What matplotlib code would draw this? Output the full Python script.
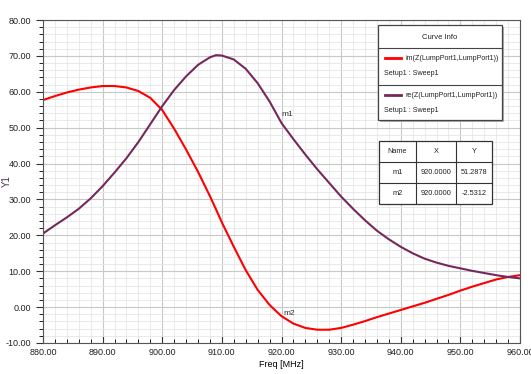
import numpy as np
import matplotlib.pyplot as plt
from matplotlib.patches import Rectangle
from matplotlib.ticker import MultipleLocator, FormatStrFormatter

plt.rcParams['font.family'] = ['Liberation Sans Narrow', 'Liberation Sans', 'DejaVu Sans']

freq = [880, 882, 884, 886, 888, 890, 892, 894, 896, 898, 900, 902, 904, 906,
        908, 909, 910, 912, 914, 916, 918, 920, 922, 924, 926, 928, 930, 932,
        934, 936, 938, 940, 942, 944, 946, 948, 950, 952, 954, 956, 958, 960]
im_z = [57.7, 58.8, 59.8, 60.6, 61.2, 61.6, 61.6, 61.2, 60.2, 58.3, 54.9, 49.7,
        43.9, 37.7, 30.9, 27.3, 23.6, 16.8, 10.3, 4.8, 0.6, -2.53, -4.6, -5.8,
        -6.3, -6.3, -5.8, -4.9, -3.9, -2.8, -1.8, -0.8, 0.2, 1.2, 2.3, 3.4,
        4.6, 5.7, 6.7, 7.7, 8.4, 8.9]
re_z = [20.5, 22.8, 25.0, 27.4, 30.3, 33.7, 37.5, 41.5, 46.0, 51.0, 56.0, 60.5,
        64.3, 67.5, 69.6, 70.2, 70.1, 69.0, 66.4, 62.4, 57.3, 51.29, 46.8, 42.5,
        38.4, 34.6, 30.8, 27.4, 24.2, 21.3, 18.9, 16.8, 15.0, 13.5, 12.4, 11.5,
        10.8, 10.1, 9.5, 8.9, 8.4, 8.0]

curve_names = ['im(Z(LumpPort1,LumpPort1))', 're(Z(LumpPort1,LumpPort1))']
setup_name = 'Setup1 : Sweep1'
marker_names = ['m1', 'm2']
marker_x = [920.0, 920.0]
marker_y = [51.2878, -2.5312]

red = '#ff0000'
purple = '#74295a'

fig = plt.figure(figsize=(5.31, 3.74), dpi=100)
W, H = 531, 374
def fx(px):
    return px / W
def fy(py):
    return 1 - py / H

ax = fig.add_axes([fx(43), fy(343), fx(520) - fx(43), fy(20) - fy(343)])
ax.plot(freq, im_z, color=red, lw=1.5)
ax.plot(freq, re_z, color=purple, lw=1.5)
ax.set_xlim(880, 960)
ax.set_ylim(-10, 80)
ax.xaxis.set_major_locator(MultipleLocator(10))
ax.xaxis.set_minor_locator(MultipleLocator(2))
ax.yaxis.set_major_locator(MultipleLocator(10))
ax.yaxis.set_minor_locator(MultipleLocator(2))
ax.xaxis.set_major_formatter(FormatStrFormatter('%.2f'))
ax.yaxis.set_major_formatter(FormatStrFormatter('%.2f'))
ax.grid(which='major', color='#c8c8c8', lw=0.8)
ax.grid(which='minor', color='#e6e6e6', lw=0.6)
ax.set_axisbelow(True)
ax.tick_params(axis='both', labelsize=6.5, colors='#333333', labelcolor='#222222')
ax.tick_params(axis='y', which='major', direction='out', length=5)
ax.tick_params(axis='y', which='minor', direction='out', length=3)
ax.tick_params(axis='x', which='major', direction='in', length=5, top=False)
ax.tick_params(axis='x', which='minor', direction='in', length=3)
for s in ax.spines.values():
    s.set_color('#555555')
    s.set_linewidth(0.8)
ax.set_xlabel('Freq [MHz]', fontsize=6.5, labelpad=2)
ax.set_ylabel('Y1', fontsize=7, color='#4a3050')
ax.yaxis.set_label_coords(-0.065, 0.5)

# marker labels
ax.text(marker_x[0], marker_y[0] + 2, marker_names[0], fontsize=6, color='#333333')
ax.text(marker_x[1] + 0.3, marker_y[1] + 0.3, marker_names[1], fontsize=6, color='#333333')

# curve info box
ov = fig.add_axes([0, 0, 1, 1], facecolor='none')
ov.set_xlim(0, W)
ov.set_ylim(H, 0)
ov.axis('off')
ov.add_patch(Rectangle((380, 27), 124, 95, facecolor='#b0b0b0', edgecolor='none'))
ov.add_patch(Rectangle((378, 25), 124, 95, facecolor='white', edgecolor='#444444', lw=0.9))
ov.plot([378, 502], [48, 48], color='#444444', lw=0.8)
ov.plot([378, 502], [85, 85], color='#444444', lw=0.8)
ov.text(440, 37, 'Curve Info', fontsize=5.5, ha='center', va='center', color='#222222')
for i, (name, col) in enumerate(zip(curve_names, [red, purple])):
    y0 = 48 + i * 37
    ov.plot([385, 401], [y0 + 10, y0 + 10], color=col, lw=2)
    ov.text(405, y0 + 10, name, fontsize=5.1, va='center', color='#222222')
    ov.text(384, y0 + 25, setup_name, fontsize=5.1, va='center', color='#222222')

# marker table
cols_x = [379, 416, 456, 492]
rows_y = [141, 162, 183, 204]
ov.add_patch(Rectangle((379, 141), 113, 63, facecolor='white', edgecolor='#333333', lw=0.9))
for xx in cols_x[1:-1]:
    ov.plot([xx, xx], [141, 204], color='#333333', lw=0.8)
for yy in rows_y[1:-1]:
    ov.plot([379, 492], [yy, yy], color='#333333', lw=0.8)
header = ['Name', 'X', 'Y']
rows = [header] + [[n, '%.4f' % x, '%.4f' % y] for n, x, y in zip(marker_names, marker_x, marker_y)]
for r, row in enumerate(rows):
    for c, txt in enumerate(row):
        ov.text((cols_x[c] + cols_x[c + 1]) / 2, (rows_y[r] + rows_y[r + 1]) / 2, txt,
                fontsize=5.3, ha='center', va='center', color='#222222')

fig.savefig('out.png', dpi=100)
